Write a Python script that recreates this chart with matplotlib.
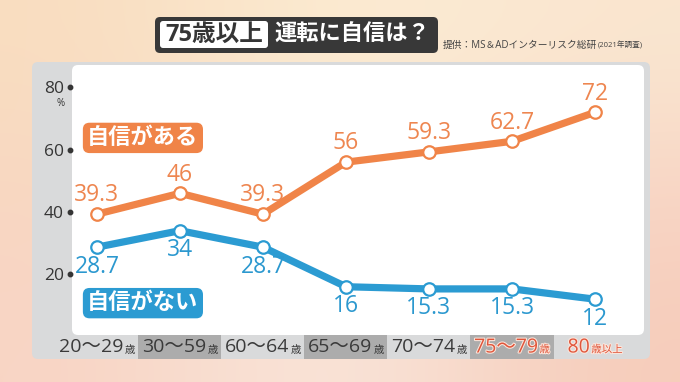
import numpy as np
import matplotlib
matplotlib.use('Agg')
import matplotlib.pyplot as plt
from matplotlib.patches import FancyBboxPatch, Rectangle
from matplotlib.offsetbox import TextArea, HPacker, AnnotationBbox
import matplotlib.transforms as mtransforms
import matplotlib.patheffects as pe

plt.rcParams['font.family'] = ['Open Sans', 'Noto Sans CJK JP', 'DejaVu Sans']

# ---- data ----
categories_main = ['20～29', '30～59', '60～64', '65～69', '70～74', '75～79', '80']
categories_suffix = ['歳', '歳', '歳', '歳', '歳', '歳', '歳以上']
confident = [39.3, 46, 39.3, 56, 59.3, 62.7, 72]
not_confident = [28.7, 34, 28.7, 16, 15.3, 15.3, 12]
yticks = [20, 40, 60, 80]
series_names = ['自信がある', '自信がない']
title_tag = '75歳以上'
title_text = '運転に自信は？'
source_main = '提供：MS＆ADインターリスク総研'
source_note = '(2021年調査)'

ORANGE = '#f08448'
ORANGE_T = '#ee8650'
BLUE = '#2b9bd2'
BLUE_T = '#2b98cf'
DARK = '#353535'
RED = '#e0553a'

W, H = 680, 382
fig = plt.figure(figsize=(W / 100, H / 100), dpi=100)

# background axes in pixel coordinates
bg = fig.add_axes([0, 0, 1, 1], zorder=0)
bg.set_xlim(0, W)
bg.set_ylim(H, 0)
bg.axis('off')

grid = np.array([
    [(249, 221, 192), (252, 238, 212), (250, 230, 208)],
    [(248, 214, 192), (251, 234, 217), (248, 212, 196)],
    [(248, 212, 196), (250, 234, 224), (246, 204, 186)],
]) / 255.0
bg.imshow(grid, extent=(0, W, H, 0), interpolation='bicubic', aspect='auto', zorder=0)

# grey panel & white plot area
bg.add_patch(FancyBboxPatch((32, 62), 618, 297, boxstyle='round,pad=0,rounding_size=6',
                            fc='#d9dadb', ec='none', zorder=1))
bg.add_patch(FancyBboxPatch((72, 65), 572, 270, boxstyle='round,pad=0,rounding_size=6',
                            fc='white', ec='none', zorder=2))

# title
bg.add_patch(FancyBboxPatch((155, 17), 283, 36, boxstyle='round,pad=0,rounding_size=5',
                            fc='#383838', ec='none', zorder=3))
bg.add_patch(FancyBboxPatch((160, 21), 108, 27, boxstyle='round,pad=0,rounding_size=3',
                            fc='white', ec='none', zorder=4))
bg.text(214, 35, title_tag, ha='center', va='center', fontsize=17, color=DARK,
        fontweight='bold', zorder=5)
bg.text(352, 35, title_text, ha='center', va='center', fontsize=16, color='white',
        fontweight='bold', zorder=5)

# source
src = HPacker(children=[TextArea(source_main, textprops=dict(fontsize=7, color='#444444')),
                        TextArea(source_note, textprops=dict(fontsize=5.5, color='#444444'))],
              align='baseline', pad=0, sep=0)
bg.add_artist(AnnotationBbox(src, (443, 45), xycoords='data', box_alignment=(0, 0.5),
                             frameon=False, zorder=5))

# main axes
ax = fig.add_axes([72 / W, (H - 335) / H, 572 / W, 270 / H], zorder=2)
ax.patch.set_alpha(0)
x = np.arange(len(categories_main))
ax.set_xlim(-0.3, 6.59)
ax.set_ylim(0.5, 87.2)
for s in ax.spines.values():
    s.set_visible(False)
ax.set_xticks([])
ax.set_yticks(yticks)
ax.set_yticklabels([str(v) for v in yticks])
ax.tick_params(axis='y', length=0, pad=6, labelsize=12.5, labelcolor=DARK)
ax.plot([-0.003] * len(yticks), yticks, 'o', ms=3.2, color=DARK,
        transform=ax.get_yaxis_transform(), clip_on=False)
bg.text(61, 104, '%', ha='center', va='center', fontsize=7, color=DARK, zorder=5)

for vals, col, tcol, off in [(confident, ORANGE, ORANGE_T, 13.5),
                             (not_confident, BLUE, BLUE_T, -14)]:
    ax.plot(x, vals, color=col, lw=5.2, solid_joinstyle='round', zorder=3,
            marker='o', ms=9, mfc='white', mec=col, mew=1.6, clip_on=False)
    for xi, v in zip(x, vals):
        ax.annotate(f'{v:g}', (xi, v), xytext=(0, off), textcoords='offset points',
                    ha='center', va='center', fontsize=16.5, color=tcol, zorder=4)

# series labels
ax.text(0.124, 0.73, series_names[0], transform=ax.transAxes, ha='center', va='center',
        fontsize=16, color='white', fontweight='bold', zorder=5,
        bbox=dict(boxstyle='round,pad=0.2,rounding_size=0.3', fc=ORANGE, ec='none'))
ax.text(0.124, 0.118, series_names[1], transform=ax.transAxes, ha='center', va='center',
        fontsize=16, color='white', fontweight='bold', zorder=5,
        bbox=dict(boxstyle='round,pad=0.2,rounding_size=0.3', fc=BLUE, ec='none'))

# category band
blend = mtransforms.blended_transform_factory(ax.transData, bg.transData)
for i in x:
    if i % 2 == 1:
        bg.add_patch(Rectangle((i - 0.5, 335), 1, 24, transform=blend, fc='#acacac',
                               ec='none', zorder=3))
    col = RED if i >= 5 else '#3a3a3a'
    effects = [pe.withStroke(linewidth=1.5, foreground='#fbe6dc')] if i >= 5 else []
    big = TextArea(categories_main[i], textprops=dict(fontsize=14, color=col,
                                                      path_effects=effects))
    small = TextArea(categories_suffix[i], textprops=dict(fontsize=7.5, color=col,
                                                          path_effects=effects))
    pack = HPacker(children=[big, small], align='baseline', pad=0, sep=1)
    bg.add_artist(AnnotationBbox(pack, (i, 347.5), xycoords=blend, box_alignment=(0.5, 0.5),
                                 frameon=False, zorder=6))

fig.savefig('out.png', dpi=100)
